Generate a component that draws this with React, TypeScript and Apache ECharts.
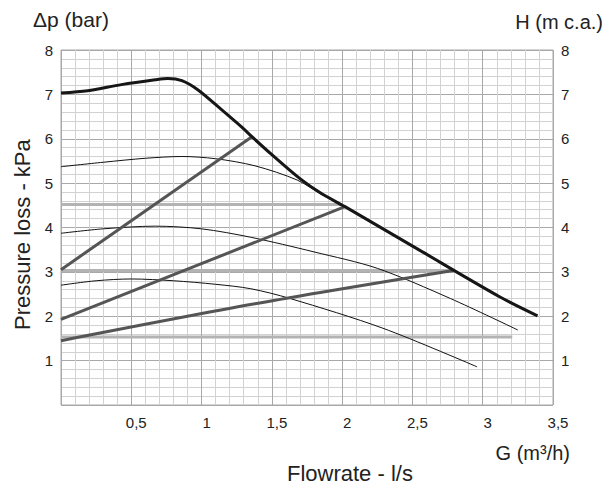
import React, { useEffect, useRef } from "react";
import * as echarts from "echarts";

// Pump curves: [flow, Δp]
const maxSpeedCurve: number[][] = [
  [0, 7.03], [0.19, 7.08], [0.43, 7.22], [0.67, 7.33], [0.76, 7.36], [0.86, 7.31],
  [0.975, 7.1], [1.14, 6.66], [1.29, 6.25], [1.36, 6.04], [1.5, 5.64], [1.7, 5.1],
  [1.85, 4.77], [2.02, 4.47], [2.55, 3.49], [3.12, 2.44], [3.39, 2.01],
];
const speed2Curve: number[][] = [
  [0, 5.37], [0.3, 5.47], [0.6, 5.56], [0.86, 5.6], [1.1, 5.55], [1.38, 5.39], [1.68, 5.07], [1.85, 4.75], [2.02, 4.47],
];
const speed3Curve: number[][] = [
  [0, 3.87], [0.3, 3.97], [0.67, 4.03], [1.0, 3.97], [1.35, 3.78], [1.8, 3.45], [2.25, 3.08],
  [2.77, 2.4], [3.25, 1.69],
];
const speed4Curve: number[][] = [
  [0, 2.7], [0.25, 2.8], [0.5, 2.84], [0.8, 2.8], [1.1, 2.72], [1.35, 2.62], [1.63, 2.4],
  [2.29, 1.73], [2.96, 0.86],
];
// System lines
const systemA: number[][] = [[0, 3.05], [1.356, 6.04]];
const systemB: number[][] = [[0, 1.93], [2.02, 4.47]];
const systemC: number[][] = [[0, 1.45], [1.38, 2.28], [2.79, 3.03]];
// Horizontal pressure levels and the flow where each ends
const levelValues = [4.52, 3.03, 1.53];
const levelEnds = [2.0, 2.79, 3.21];

const xMin = 0, xMax = 3.5, xStep = 0.5;
const yMin = 0, yMax = 8, yStep = 1;

const FONT = "'Liberation Sans', Arial, sans-serif";

export default function App() {
  const ref = useRef<HTMLDivElement>(null);
  useEffect(() => {
    if (!ref.current) return;
    const chart = echarts.init(ref.current, undefined, { renderer: "svg" });
    const levelSeries = levelValues.map((v, i) => ({
      type: "line",
      data: [[0, v], [levelEnds[i], v]],
      showSymbol: false,
      lineStyle: { color: "#b3b3b3", width: 3 },
      z: 2,
    }));
    const thin = (d: number[][]) => ({
      type: "line",
      data: d,
      showSymbol: false,
      smooth: 0.3,
      lineStyle: { color: "#111", width: 1 },
      z: 3,
    });
    const sys = (d: number[][]) => ({
      type: "line",
      data: d,
      showSymbol: false,
      smooth: 0.3,
      lineStyle: { color: "#555", width: 3 },
      z: 4,
    });
    const axisLabelFmt = (v: number) => (v === 0 ? "" : String(v).replace(".", ","));
    chart.setOption({
      animation: false,
      grid: { left: 61, right: 53, top: 50, bottom: 85, show: true, borderColor: "#a8a8a8", borderWidth: 1 },
      xAxis: {
        type: "value",
        min: xMin,
        max: xMax,
        interval: xStep,
        axisLine: { show: false },
        axisTick: { show: false },
        axisLabel: {
          formatter: axisLabelFmt,
          fontFamily: FONT,
          fontSize: 15,
          color: "#222",
          margin: 10,
          padding: [0, 0, 0, 10],
        },
        splitLine: { show: true, lineStyle: { color: "#a8a8a8", width: 1 } },
        minorTick: { show: false, splitNumber: 5 },
        minorSplitLine: { show: true, lineStyle: { color: "#d2d2d2", width: 1 } },
      },
      yAxis: [
        {
          type: "value",
          min: yMin,
          max: yMax,
          interval: yStep,
          position: "left",
          axisLine: { show: false },
          axisTick: { show: false },
          axisLabel: {
            formatter: axisLabelFmt,
            fontFamily: FONT,
            fontSize: 15,
            color: "#222",
            margin: 8,
            padding: [5, 0, 0, 0],
          },
          splitLine: { show: true, lineStyle: { color: "#a8a8a8", width: 1 } },
          minorTick: { show: false, splitNumber: 5 },
          minorSplitLine: { show: true, lineStyle: { color: "#d2d2d2", width: 1 } },
        },
        {
          type: "value",
          min: yMin,
          max: yMax,
          interval: yStep,
          position: "right",
          axisLine: { show: false },
          axisTick: { show: false },
          axisLabel: {
            formatter: axisLabelFmt,
            fontFamily: FONT,
            fontSize: 15,
            color: "#222",
            margin: 8,
            padding: [5, 0, 0, 0],
          },
          splitLine: { show: false },
        },
      ],
      series: [
        ...levelSeries,
        thin(speed2Curve),
        thin(speed3Curve),
        thin(speed4Curve),
        sys(systemA),
        sys(systemB),
        sys(systemC),
        {
          type: "line",
          data: maxSpeedCurve,
          showSymbol: false,
          smooth: 0.3,
          lineStyle: { color: "#161616", width: 3 },
          z: 5,
        },
      ],
      graphic: [
        {
          type: "text",
          x: 33,
          y: 9,
          style: { text: "Δp (bar)", font: `21px ${FONT}`, fill: "#222", align: "left", verticalAlign: "top" },
        },
        {
          type: "text",
          x: 603,
          y: 12,
          style: { text: "H (m c.a.)", font: `20px ${FONT}`, fill: "#222", align: "right", verticalAlign: "top" },
        },
        {
          type: "text",
          x: 570,
          y: 443,
          style: { text: "G (m³/h)", font: `20px ${FONT}`, fill: "#222", align: "right", verticalAlign: "top" },
        },
        {
          type: "text",
          x: 287,
          y: 462,
          style: { text: "Flowrate - l/s", font: `22px ${FONT}`, fill: "#222", align: "left", verticalAlign: "top" },
        },
        {
          type: "text",
          x: 11,
          y: 330,
          rotation: Math.PI / 2,
          style: { text: "Pressure loss - kPa", font: `22px ${FONT}`, fill: "#222", align: "left", verticalAlign: "top" },
        },
      ],
    });
    return () => chart.dispose();
  }, []);
  return (
    <div
      ref={ref}
      style={{ position: "fixed", left: 0, top: 0, width: 606, height: 490, background: "#fff" }}
    />
  );
}
